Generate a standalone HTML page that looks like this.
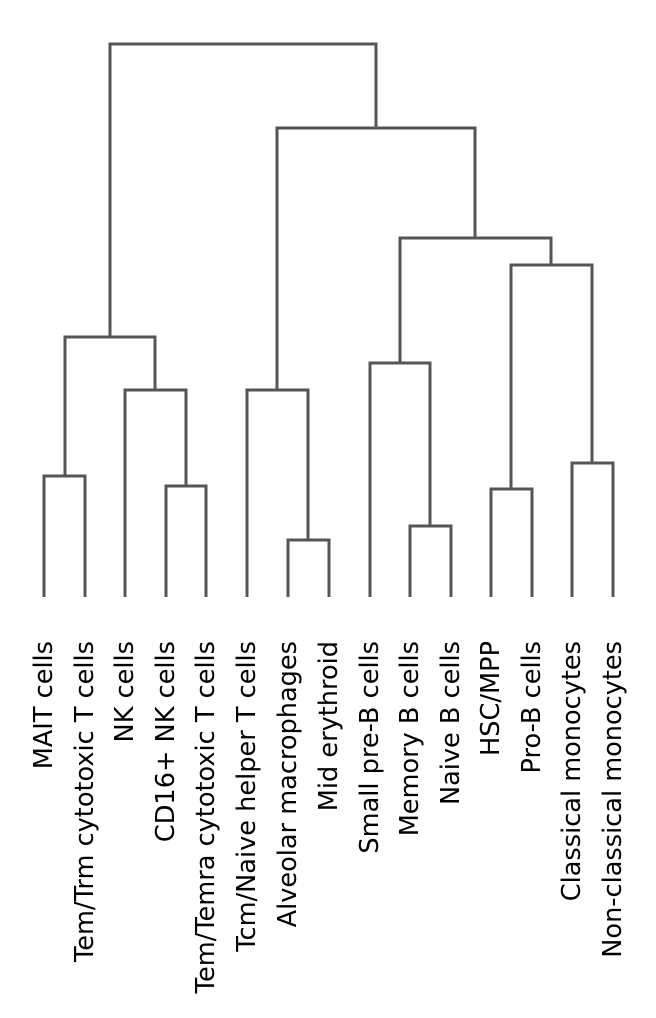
<!DOCTYPE html>
<html><head><style>body{margin:0;background:#fff}</style></head><body>
<svg width="656" height="1013" xmlns="http://www.w3.org/2000/svg">
<g stroke="#555" stroke-width="3" fill="none" stroke-linecap="butt">
<path d="M44,597V476H85V597"/>
<path d="M166,597V486H206V597"/>
<path d="M125,597V390H186V486"/>
<path d="M65,476V337H155V390"/>
<path d="M288,597V540H329V597"/>
<path d="M247,597V390H308V540"/>
<path d="M410,597V526H451V597"/>
<path d="M370,597V363H430V526"/>
<path d="M491,597V489H532V597"/>
<path d="M572,597V463H613V597"/>
<path d="M511,489V265H592V463"/>
<path d="M400,363V238H551V265"/>
<path d="M277,390V128H475V238"/>
<path d="M110,337V44H376V128"/>
</g>
<g font-family="DejaVu Sans, Liberation Sans, sans-serif" font-size="25.6" fill="#000" text-anchor="end">
<text transform="translate(52,641) rotate(-90)">MAIT cells</text>
<text transform="translate(93,641) rotate(-90)">Tem/Trm cytotoxic T cells</text>
<text transform="translate(133,641) rotate(-90)">NK cells</text>
<text transform="translate(174,641) rotate(-90)">CD16+ NK cells</text>
<text transform="translate(214,641) rotate(-90)">Tem/Temra cytotoxic T cells</text>
<text transform="translate(255,641) rotate(-90)">Tcm/Naive helper T cells</text>
<text transform="translate(296,641) rotate(-90)">Alveolar macrophages</text>
<text transform="translate(337,641) rotate(-90)">Mid erythroid</text>
<text transform="translate(378,641) rotate(-90)">Small pre-B cells</text>
<text transform="translate(418,641) rotate(-90)">Memory B cells</text>
<text transform="translate(459,641) rotate(-90)">Naive B cells</text>
<text transform="translate(499,641) rotate(-90)">HSC/MPP</text>
<text transform="translate(540,641) rotate(-90)">Pro-B cells</text>
<text transform="translate(580,641) rotate(-90)">Classical monocytes</text>
<text transform="translate(621,641) rotate(-90)">Non-classical monocytes</text>
</g>
</svg>
</body></html>
